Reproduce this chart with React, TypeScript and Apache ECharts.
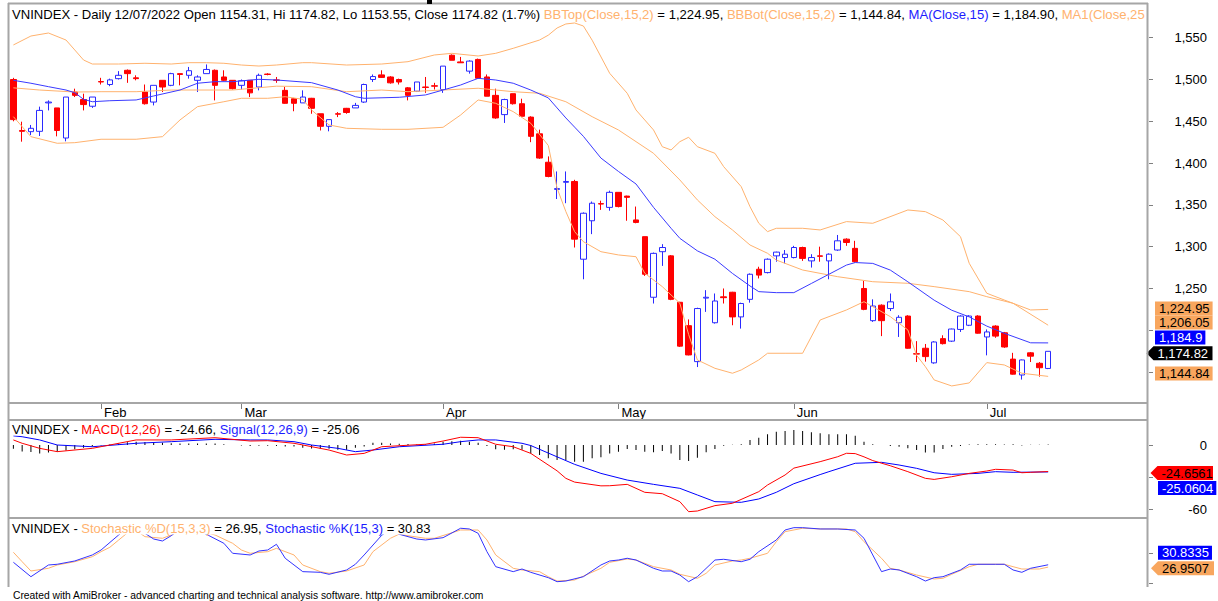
import React, { useEffect, useRef } from "react";
import * as echarts from "echarts";

const FONT = '"Liberation Sans", Arial, Helvetica, sans-serif';

// ---------- calendar (trading days shown) ----------
const MONTHS = ["Jan", "Feb", "Mar", "Apr", "May", "Jun", "Jul"];
const tradingDays: number[][] = [
  [17, 18, 19, 20, 21, 24, 25, 26, 27, 28],
  [7, 8, 9, 10, 11, 14, 15, 16, 17, 18, 21, 22, 23, 24, 25, 28],
  [1, 2, 3, 4, 7, 8, 9, 10, 11, 14, 15, 16, 17, 18, 21, 22, 23, 24, 25, 28, 29, 30, 31],
  [1, 4, 5, 6, 7, 8, 12, 13, 14, 15, 18, 19, 20, 21, 22, 25, 26, 27, 28, 29],
  [4, 5, 6, 9, 10, 11, 12, 13, 16, 17, 18, 19, 20, 23, 24, 25, 26, 27, 30, 31],
  [1, 2, 3, 6, 7, 8, 9, 10, 13, 14, 15, 16, 17, 20, 21, 22, 23, 24, 27, 28, 29, 30],
  [1, 4, 5, 6, 7, 8, 11, 12],
];
const PAD_BARS = 11;

// ---------- OHLC ----------
const opens = [
  1500, 1439, 1437.6, 1438, 1472, 1466, 1430, 1485, 1476, 1468,
  1497.5, 1494, 1501, 1511, 1502, 1485, 1473, 1499, 1493, 1507,
  1505, 1499, 1507, 1511, 1503, 1499, 1493, 1499, 1491, 1506.5,
  1499.5, 1487, 1477, 1472, 1477.5, 1459, 1444, 1459, 1465.5, 1466,
  1473, 1500, 1505.5, 1503, 1500, 1490, 1486, 1491, 1492.5, 1488,
  1529, 1521, 1510, 1524, 1503, 1481, 1458, 1483, 1471, 1455,
  1435, 1401, 1368.5, 1377, 1378, 1285, 1331, 1351.5, 1347, 1365,
  1360.5, 1332, 1312, 1239.5, 1294, 1289, 1233.5, 1205.5, 1162.5, 1238.5,
  1209, 1240, 1245.5, 1216, 1237, 1273, 1269, 1289, 1287, 1287,
  1299, 1283, 1289, 1283, 1296, 1309, 1298, 1250, 1211.5, 1230,
  1226, 1209, 1217, 1172, 1178.5, 1161, 1190, 1187, 1201, 1206,
  1217, 1192, 1205, 1197, 1165.5, 1146.5, 1173, 1160.5, 1154.31,
];
const highs = [
  1502, 1449.5, 1445.6, 1467.5, 1475, 1466, 1479, 1489, 1483, 1479,
  1502, 1501, 1510, 1512, 1505, 1494, 1493, 1499, 1508, 1507,
  1515, 1505, 1518, 1512, 1511, 1499, 1500, 1499, 1507, 1507.5,
  1503, 1491, 1478, 1487, 1478, 1459, 1452, 1461, 1466, 1472,
  1495, 1506, 1511, 1504, 1501, 1491, 1497, 1503, 1496, 1516,
  1530, 1527, 1523, 1525, 1506, 1489, 1477, 1483, 1477, 1456,
  1440, 1408, 1390, 1390, 1380, 1341, 1354, 1355, 1367, 1365,
  1361, 1348, 1312, 1293, 1303, 1290, 1234, 1213, 1227, 1248,
  1244, 1250, 1246, 1233, 1268, 1276, 1286, 1294, 1296, 1301,
  1300, 1291, 1300, 1292, 1314, 1310, 1307, 1259, 1237, 1231,
  1244, 1218, 1218, 1187, 1183.6, 1187, 1194, 1202, 1218, 1218,
  1218, 1201, 1206, 1198, 1173, 1165, 1174, 1162, 1174.82,
];
const lows = [
  1450, 1425.6, 1433.6, 1432.4, 1463, 1432, 1426, 1479, 1463, 1466,
  1494, 1492, 1500, 1496, 1499, 1470, 1469, 1485, 1492, 1493,
  1501, 1485, 1507, 1475, 1498, 1488, 1488, 1479, 1487, 1505,
  1496, 1471, 1462, 1472, 1459, 1439, 1438, 1455, 1459, 1466,
  1472, 1497, 1502, 1495, 1494, 1475, 1485, 1484, 1488, 1484,
  1523, 1520, 1507, 1501, 1480, 1453, 1448, 1470, 1455, 1425,
  1405, 1383, 1357, 1352, 1299, 1261, 1315, 1344, 1343, 1347,
  1331, 1328, 1265, 1232, 1277, 1236, 1180, 1170, 1156, 1222,
  1208, 1232, 1206, 1202, 1233, 1262, 1268, 1282, 1280, 1286,
  1283, 1275, 1282, 1261, 1295, 1301, 1281, 1224, 1210, 1193,
  1223, 1192, 1178, 1162, 1162.5, 1160, 1183, 1186, 1198, 1205,
  1196, 1170, 1191, 1179, 1147, 1141, 1162, 1144.5, 1153.55,
];
const closes = [
  1452, 1438, 1441.6, 1463, 1473, 1439, 1479, 1481, 1470, 1479,
  1497, 1499.5, 1505, 1507, 1501, 1471, 1493, 1491, 1507, 1506,
  1510.5, 1503, 1512, 1493, 1499, 1489, 1498.5, 1484, 1505, 1506,
  1499, 1471.5, 1471.5, 1479, 1465.5, 1444, 1452, 1458.5, 1460.5, 1469,
  1494, 1503.5, 1502.5, 1496, 1497, 1481, 1497, 1490.5, 1492, 1516,
  1523, 1520, 1522, 1501.5, 1480, 1454, 1476, 1471, 1456, 1432,
  1406, 1384, 1369.5, 1378, 1309, 1340, 1352, 1351, 1365, 1348,
  1359, 1329, 1267, 1292, 1299, 1237, 1181, 1170.5, 1226, 1239.5,
  1235, 1239, 1216, 1232, 1267, 1266, 1285, 1293.5, 1291, 1299,
  1286, 1287, 1288.5, 1291, 1307, 1305, 1282, 1225, 1229, 1211.5,
  1234, 1215.5, 1178.5, 1171.5, 1168.5, 1186, 1184, 1201.5, 1217, 1217,
  1196.5, 1198, 1193, 1180, 1147.5, 1164.5, 1169, 1155.2, 1174.82,
];

// ---------- price-panel indicator lines: [bar, value] ----------
const maClose15: [number, number][] = [
  [0, 1499], [2, 1495.5], [4, 1491.4], [6, 1487.4], [7, 1484.2], [8, 1476.3], [9, 1473.4], [11, 1474.6],
  [14, 1475.5], [16, 1480.3], [19, 1487.4], [21, 1495.5], [23, 1497.4], [25, 1497.4], [28, 1500.2],
  [30, 1499.4], [34, 1496.2], [37, 1487.4], [39, 1479.4], [40, 1477.5], [44, 1478.7], [47, 1481.5],
  [49, 1487.4], [51, 1493.4], [53, 1501.4], [55, 1499.4], [57, 1495.5], [59, 1487.4], [61, 1478],
  [62, 1466], [63, 1454], [64, 1443], [65, 1432], [67, 1406], [69, 1390], [71, 1375], [73, 1347],
  [75, 1322], [76, 1310], [78, 1295], [80, 1285], [82, 1268], [84, 1253], [85, 1246.2], [87, 1245],
  [89, 1245], [91, 1256], [93, 1267], [95, 1278], [96, 1281], [98, 1280], [100, 1272], [102, 1258],
  [105, 1236], [107, 1224], [109, 1216], [111, 1205], [113, 1196.4], [116, 1185], [118, 1184.9],
];
const ma1Close: [number, number][] = [
  [0, 1490], [3, 1487.4], [7, 1485], [10, 1485.4], [14, 1485.4], [18, 1487.4], [25, 1487.4], [30, 1492],
  [34, 1491.4], [38, 1485.4], [42, 1487.4], [45, 1485.4], [49, 1487.4], [53, 1489.5], [57, 1485.4],
  [60, 1483.5], [63, 1473.4], [66, 1455.5], [69, 1439.6], [73, 1411.7], [76, 1379.8], [78, 1355.9],
  [80, 1335.9], [82, 1320], [84, 1302], [86, 1292.1], [87, 1284], [90, 1272.1], [94, 1264.1],
  [98, 1258.1], [102, 1256.2], [105, 1252.2], [109, 1246.2], [111, 1240.2], [114, 1232.3], [118, 1206.05],
];
const bbTop: [number, number][] = [
  [0, 1541.3], [2, 1552], [4, 1555.6], [6, 1547.2], [7, 1535.3], [8, 1523.3], [9, 1518.5], [12, 1518.5],
  [15, 1519.4], [18, 1518.5], [20, 1520.1], [22, 1520.1], [24, 1519.4], [26, 1517.3], [28, 1516.1],
  [30, 1517.3], [33, 1520.1], [34, 1520.1], [38, 1517.3], [42, 1518.5], [45, 1521.3], [48, 1529.3],
  [50, 1531.3], [53, 1528.1], [55, 1531.3], [57, 1537.3], [60, 1547.2], [61, 1553], [62, 1561.6],
  [63, 1566.4], [64, 1567.6], [65, 1564], [66, 1547], [68, 1507.4], [70, 1483.5], [71, 1463.5],
  [73, 1439.6], [74, 1419.6], [75, 1415.7], [76, 1425.6], [77, 1430.9], [78, 1419.6], [80, 1411.7],
  [81, 1395.7], [83, 1371.8], [84, 1347.8], [85, 1328], [86, 1318], [87, 1322], [90, 1322], [92, 1320],
  [95, 1330], [98, 1328], [102, 1343.9], [104, 1341.9], [106, 1331.9], [108, 1312], [109, 1280.1],
  [111, 1244.3], [113, 1236.2], [116, 1224.3], [118, 1224.95],
];
const bbBot: [number, number][] = [
  [0, 1455.5], [2, 1431.6], [5, 1423.7], [7, 1424.4], [10, 1428.5], [14, 1428.5], [17, 1431.6],
  [19, 1451.6], [21, 1467.5], [24, 1473.4], [26, 1477.5], [29, 1477.5], [31, 1479.4], [33, 1476.3],
  [34, 1463.5], [36, 1445.6], [38, 1441.6], [42, 1440.4], [45, 1440.4], [49, 1442.8], [51, 1457.5],
  [53, 1475.5], [55, 1471.5], [57, 1461.5], [59, 1447.6], [61, 1421], [62, 1370], [63, 1342],
  [64, 1318], [65, 1306], [67, 1294], [69, 1290.1], [71, 1288], [72, 1268.2], [74, 1252.2],
  [76, 1232.3], [77, 1195], [78, 1164.5], [80, 1154.5], [82, 1148.6], [83, 1152.5], [85, 1164.5],
  [86, 1172.5], [88, 1172.5], [90, 1172.5], [92, 1212.3], [95, 1224.3], [97, 1234.2], [98, 1228.2],
  [100, 1216.3], [102, 1200.4], [103, 1170], [104, 1156.5], [105, 1140.6], [107, 1133.4], [109, 1137],
  [111, 1161.3], [113, 1158.5], [115, 1148.6], [118, 1144.84],
];

// ---------- MACD panel ----------
const macdLine: [number, number][] = [
  [0, 4.7], [1, 1.6], [3, -3.1], [5, -6.2], [9, -3.1], [14, 4.7], [18, 4.7], [23, 6.8], [27, 3.7],
  [29, 4], [32, 1.6], [36, -4.7], [38, -9.3], [40, -7.8], [42, -1.6], [47, 0.7], [49, 3.7], [51, 7.2],
  [53, 6.8], [55, 0.7], [57, -1.6], [59, -7.8], [62, -24], [63, -31], [64, -34.5], [67, -38], [68, -37.9],
  [70, -36.6], [72, -44], [74, -45.3], [76, -52.7], [77, -62], [78, -61.4], [80, -56.4], [82, -54.2],
  [85, -43.4], [86, -37.2], [88, -27.9], [89, -21.5], [92, -15.5], [94, -10.9], [95, -7.7], [96, -8],
  [97, -11], [98, -14.5], [100, -19.3], [102, -24.8], [104, -31], [105, -32], [107, -29.5], [109, -26.4],
  [111, -24.2], [112, -22.6], [114, -23.3], [115, -25.8], [116, -25.4], [118, -24.6561],
];
const signalLine: [number, number][] = [
  [0, 8.5], [1, 7.7], [3, 4.7], [5, 0], [9, -1.6], [14, 1.6], [18, 3.1], [23, 5.3], [27, 4.7], [29, 4.7],
  [32, 3.1], [34, 0], [37, -3.1], [39, -6.2], [41, -4.7], [44, -1.6], [49, 0.7], [51, 3.1], [53, 4.7],
  [55, 4.7], [58, 1.6], [59, -0.5], [62, -11], [64, -18], [67, -26.4], [70, -32.6], [73, -36.6],
  [76, -40.3], [78, -46.5], [80, -52.7], [83, -53.3], [85, -50.2], [87, -44], [89, -36],
  [92, -27.5], [93, -24.8], [96, -17], [99, -16.1], [101, -18.6], [103, -21.7], [105, -25.8],
  [107, -27.3], [110, -26.4], [112, -24.8], [114, -25.4], [118, -25.0604],
];
const macdHist = [
  -3.5, -6, -6.5, -7.8, -7, -6.2, -5, -4, -2.5, -1.5,
  -0.5, 0.5, 1.5, 2.5, 3.1, 2.8, 2.5, 2, 1.6, 1.5,
  1.5, 1.5, 1.5, 1.5, 0.8, 0, -0.5, -1, -0.8, -0.7,
  -1, -1.3, -1.5, -2.5, -3.3, -3.5, -3.5, -4.5, -4.5, -2.5,
  -1.5, 2, 2, 1.5, 1.2, 1, 0.5, 0.5, 1.5, 3,
  3.5, 4, 3, 2, -1, -4, -4.5, -4, -4.5, -7.8,
  -9.3, -12.4, -14, -14, -15.5, -15.5, -12.4, -11.5, -7.8, -6.2,
  -3.7, -4.7, -6.2, -6.8, -5.6, -7.8, -14, -14.9, -11.8, -6.8,
  -3.7, -0.6, 0.2, 0.6, 4.7, 6.8, 9.9, 12.4, 13, 14,
  13, 11.8, 10.9, 9.9, 9.9, 9.9, 8.7, 3.1, 0.6, 0.1,
  -1, -1.6, -3, -4.6, -7, -7, -3.7, -1.6, -1, 0.5,
  0.8, 0.8, 0.6, 0.5, 0.6, -0.4, 0.2, 0.3, 0.4,
];

// ---------- Stochastic panel ----------
const stochK: [number, number][] = [
  [0, 35], [2, 11], [4, 30.5], [5, 31.7], [7, 37.2], [9, 47.2], [10, 55.5], [12, 80.5], [13, 92], [14, 90],
  [15, 83.3], [16, 73.8], [17, 70.5], [18, 79.3], [19, 90], [20, 92], [21, 88], [22, 81.7], [24, 66.7],
  [25, 50], [27, 47.2], [28, 53.8], [29, 55.5], [30, 65], [31, 41.7], [33, 19.4], [35, 18.3], [36, 15],
  [38, 22.2], [39, 31.7], [40, 47.2], [42, 80], [43, 90], [44, 81.7], [46, 73.8], [47, 72.2], [49, 76],
  [51, 91.7], [52, 90.5], [53, 83.3], [54, 52.7], [55, 27.7], [57, 19.4], [58, 23.8], [59, 18.3],
  [61, 9.4], [62, 2.7], [63, 3.8], [65, 11], [67, 30.5], [68, 37.2], [69, 38.8], [70, 41.7], [71, 38.8],
  [73, 25], [74, 20.5], [75, 20.5], [76, 13.8], [77, 2.7], [78, 11], [80, 38.8], [81, 40], [83, 36],
  [84, 40], [85, 52.7], [87, 72.2], [88, 88.8], [89, 92.7], [90, 92.7], [92, 90.5], [94, 90.5],
  [96, 88.8], [97, 75], [98, 47.2], [99, 19.4], [100, 23.8], [101, 22.2], [103, 11], [104, 3.8],
  [105, 9.4], [106, 11], [108, 22.2], [109, 31.7], [110, 31.7], [112, 31.7], [113, 31.7], [114, 22.2],
  [115, 18.3], [116, 25], [118, 30.8335],
];
const stochD: [number, number][] = [
  [0, 51.7], [1, 36], [2, 20.5], [4, 25], [5, 30.5], [7, 36], [9, 44.3], [10, 52.7], [11, 60], [12, 72],
  [13, 84], [14, 88], [15, 77.7], [17, 75], [18, 80.5], [19, 88], [20, 90], [21, 88], [23, 80.5],
  [25, 66.7], [26, 55.5], [27, 50], [29, 52.7], [30, 58.3], [32, 47.2], [33, 30.5], [35, 19.4],
  [36, 16.7], [38, 20.5], [40, 30.5], [41, 52.7], [43, 75], [44, 82], [45, 79.3], [47, 75], [48, 75],
  [51, 88.8], [53, 88.8], [54, 72.2], [55, 47.2], [57, 25], [58, 22.2], [60, 19.4], [61, 11], [62, 3.8],
  [64, 5.5], [67, 25], [68, 35], [70, 40.5], [71, 38.8], [73, 27.7], [75, 22.2], [76, 15], [78, 8.3],
  [79, 16.7], [80, 30.5], [82, 37.2], [83, 38.8], [84, 41.7], [86, 50], [87, 69.3], [88, 86],
  [90, 91.7], [92, 90.5], [95, 90.5], [96, 86], [97, 69.3], [99, 41.7], [100, 25], [101, 22.2],
  [103, 13.8], [105, 7.2], [106, 8.3], [107, 15], [109, 27.7], [110, 31.7], [113, 31.7], [114, 27.7],
  [115, 23.8], [117, 23.8], [118, 26.9507],
];

// ---------- axis ticks (labels that the value boxes fully hide in the reference are left out) ----------
const priceTicks = [1150, 1200, 1250, 1300, 1350, 1400, 1450, 1500, 1550];
const priceLabels = [1150, 1250, 1300, 1350, 1400, 1450, 1500, 1550];
const macdTicks = [0, -30, -60];
const macdLabels = [0, -60];
const stochTicks = [0, 50];
const stochLabels: number[] = [];

// ---------- colours ----------
const RED = "#ff0000";
const BLUE = "#2a2aff";
const ORANGE = "#ffb26e";
const BOX_ORANGE = "#f8a65e";
const FRAME = "#a6a6a6";

function buildOption() {
  const dates: string[] = [];
  const monthIdx: number[] = [];
  tradingDays.forEach((days, m) =>
    days.forEach((d) => {
      dates.push(`${String(d).padStart(2, "0")}/${String(m + 1).padStart(2, "0")}/2022`);
      monthIdx.push(m);
    })
  );
  const categories = [...dates, ...Array.from({ length: PAD_BARS }, (_, k) => `pad${k}`)];
  const monthStart = new Set<number>();
  for (let i = 1; i < monthIdx.length; i++) if (monthIdx[i] !== monthIdx[i - 1]) monthStart.add(i);

  const candles = opens.map((o, i) => [o, closes[i], lows[i], highs[i]]);
  const n = closes.length;
  const last = (a: [number, number][]) => a[a.length - 1][1];
  const c2 = (v: number) => v.toLocaleString("en-US", { minimumFractionDigits: 2, maximumFractionDigits: 2 });
  const cShort = (v: number) => v.toLocaleString("en-US", { maximumFractionDigits: 2 });
  const pct = ((closes[n - 1] / closes[n - 2] - 1) * 100).toFixed(1);

  const makeRich = (size: number) => {
    const base = { fontSize: size, fontFamily: FONT };
    return {
      k: { ...base, fill: "#000" },
      o: { ...base, fill: ORANGE },
      b: { ...base, fill: "#1c1cff" },
      r: { ...base, fill: RED },
    };
  };

  // the reference's title strip is cut by the panel edge inside "MA1(Close,25"
  const header =
    `{k|VNINDEX - Daily ${dates[n - 1]} Open ${opens[n - 1].toFixed(2)}, Hi ${highs[n - 1].toFixed(2)}, ` +
    `Lo ${lows[n - 1].toFixed(2)}, Close ${closes[n - 1].toFixed(2)} (${pct}%) }` +
    `{o|BBTop(Close,15,2)}{k| = ${c2(last(bbTop))}, }{o|BBBot(Close,15,2)}{k| = ${c2(last(bbBot))}, }` +
    `{b|MA(Close,15)}{k| = ${c2(last(maClose15))}, }{o|MA1(Close,25}`;
  const macdTitle =
    `{k|VNINDEX - }{r|MACD(12,26)}{k| = ${last(macdLine).toFixed(2)}, }` +
    `{b|Signal(12,26,9)}{k| = ${last(signalLine).toFixed(2)}}`;
  const stochTitle =
    `{k|VNINDEX - }{o|Stochastic %D(15,3,3)}{k| = ${last(stochD).toFixed(2)}, }` +
    `{b|Stochastic %K(15,3)}{k| = ${last(stochK).toFixed(2)}}`;

  const title = (text: string, y: number, size: number) => ({
    type: "text",
    z: 100,
    x: 11,
    y,
    style: {
      text,
      rich: makeRich(size),
      fontSize: size,
      fontFamily: FONT,
      verticalAlign: "middle",
      backgroundColor: "#fff",
      padding: [1, 1, 0, 1],
    },
  });

  const box = (text: string, cy: number, left: number, bg: string, fg: string) => ({
    type: "text",
    z: 110,
    x: left,
    y: cy,
    style: {
      text,
      fill: fg,
      fontSize: 13,
      fontFamily: FONT,
      verticalAlign: "middle",
      backgroundColor: bg,
      padding: [1, 3, 0, 4],
    },
  });
  const arrowBox = (text: string, cy: number, tip: number, right: number, bg: string, fg: string) => [
    {
      type: "polygon",
      z: 110,
      shape: {
        points: [
          [tip, cy],
          [tip + 7, cy - 7],
          [right, cy - 7],
          [right, cy + 7],
          [tip + 7, cy + 7],
        ],
      },
      style: { fill: bg },
    },
    {
      type: "text",
      z: 111,
      x: tip + 11,
      y: cy,
      style: { text, fill: fg, fontSize: 13, fontFamily: FONT, verticalAlign: "middle" },
    },
  ];

  const hLine = (y: number, x1: number, x2: number) => ({
    type: "line",
    z: 120,
    shape: { x1, y1: y, x2, y2: y },
    style: { stroke: FRAME, lineWidth: 2 },
  });
  const vLine = (x: number, y1: number, y2: number) => ({
    type: "line",
    z: 120,
    shape: { x1: x, y1, x2: x, y2 },
    style: { stroke: FRAME, lineWidth: 2 },
  });

  const graphic: any[] = [
    title(header, 14, 13.1),
    title(macdTitle, 428.5, 13),
    title(stochTitle, 527.5, 13),
    hLine(3.5, 8, 1148),
    hLine(403, 8, 1148),
    hLine(420, 8, 1148),
    hLine(518, 8, 1148),
    vLine(8.5, 3, 587),
    vLine(1147.5, 3, 587),
    { type: "rect", z: 121, shape: { x: 427, y: 0, width: 5, height: 4 }, style: { fill: "#000" } },
    box(cShort(last(bbTop)), 308.5, 1155, BOX_ORANGE, "#000"),
    box(cShort(last(ma1Close)), 322.5, 1155, BOX_ORANGE, "#000"),
    box(cShort(last(maClose15)), 337.5, 1155, "#0000ff", "#fff"),
    ...arrowBox(cShort(closes[n - 1]), 353.3, 1146.5, 1212.5, "#000", "#fff"),
    box(cShort(last(bbBot)), 373.5, 1155, BOX_ORANGE, "#000"),
    ...arrowBox(last(macdLine).toFixed(4), 473, 1150.5, 1213, RED, "#000"),
    box(last(signalLine).toFixed(4), 488, 1158, "#0000ff", "#fff"),
    box(last(stochK).toFixed(4), 552.8, 1158, "#0000ff", "#fff"),
    ...arrowBox(last(stochD).toFixed(4), 568.3, 1151, 1214, BOX_ORANGE, "#000"),
    {
      type: "text",
      z: 100,
      x: 13,
      y: 595,
      style: {
        text: "Created with AmiBroker - advanced charting and technical analysis software. http://www.amibroker.com",
        fill: "#000",
        fontSize: 10.3,
        fontFamily: FONT,
        verticalAlign: "middle",
      },
    },
  ];

  const axisLabelBase = { fontSize: 13, fontFamily: FONT, color: "#000" };
  const yAxisCommon = (gridIndex: number, min: number, max: number, ticks: number[], labels: number[], fmt: (v: number) => string) => ({
    type: "value",
    gridIndex,
    position: "right",
    min,
    max,
    axisLine: { show: false },
    splitLine: { show: false },
    axisTick: { show: true, length: 4, customValues: ticks, lineStyle: { color: "#808080" } },
    axisLabel: {
      ...axisLabelBase,
      show: labels.length > 0,
      customValues: labels.length ? labels : ticks,
      formatter: fmt,
      align: "right",
      margin: 58,
    },
  });

  const lineS = (data: [number, number][], color: string, xi: number, yi: number, z = 3) => ({
    type: "line",
    xAxisIndex: xi,
    yAxisIndex: yi,
    data,
    showSymbol: false,
    symbol: "none",
    lineStyle: { color, width: 1 },
    itemStyle: { color },
    z,
    silent: true,
  });

  return {
    animation: false,
    backgroundColor: "#fff",
    grid: [
      { left: 9, right: 69, top: 4, height: 399 },
      { left: 9, right: 69, top: 420, height: 98 },
      { left: 9, right: 69, top: 518, height: 68 },
    ],
    xAxis: [
      {
        type: "category",
        gridIndex: 0,
        data: categories,
        boundaryGap: true,
        axisLine: { show: false },
        splitLine: { show: false },
        axisTick: {
          show: true,
          alignWithLabel: true,
          interval: (i: number) => monthStart.has(i),
          length: 6,
          lineStyle: { color: "#808080" },
        },
        axisLabel: {
          ...axisLabelBase,
          interval: (i: number) => monthStart.has(i),
          formatter: (v: string) => MONTHS[parseInt(v.slice(3, 5), 10) - 1] || "",
          align: "left",
          verticalAlign: "top",
          margin: 3,
          padding: [0, 0, 0, 3],
        },
      },
      { type: "category", gridIndex: 1, data: categories, boundaryGap: true, show: false },
      { type: "category", gridIndex: 2, data: categories, boundaryGap: true, show: false },
    ],
    yAxis: [
      yAxisCommon(0, 1113, 1590.3, priceTicks, priceLabels, (v) => v.toLocaleString("en-US")),
      yAxisCommon(1, -67.9, 23.26, macdTicks, macdLabels, (v) => String(v)),
      yAxisCommon(2, -4.5, 108.8, stochTicks, stochLabels, (v) => String(v)),
    ],
    series: [
      {
        type: "candlestick",
        xAxisIndex: 0,
        yAxisIndex: 0,
        data: candles,
        barWidth: 6,
        z: 2,
        itemStyle: {
          color: "#ffffff",
          color0: RED,
          borderColor: BLUE,
          borderColor0: RED,
          borderWidth: 1,
        },
        silent: true,
      },
      lineS(bbTop, ORANGE, 0, 0),
      lineS(ma1Close, ORANGE, 0, 0),
      lineS(bbBot, ORANGE, 0, 0),
      lineS(maClose15, "#3a3aff", 0, 0, 4),
      {
        type: "bar",
        xAxisIndex: 1,
        yAxisIndex: 1,
        data: macdHist,
        barWidth: 1,
        itemStyle: { color: "#000" },
        silent: true,
      },
      lineS(signalLine, "#0000ff", 1, 1),
      lineS(macdLine, RED, 1, 1, 4),
      lineS(stochD, ORANGE, 2, 2),
      lineS(stochK, "#3333ff", 2, 2, 4),
    ],
    graphic,
  };
}

export default function App() {
  const ref = useRef<HTMLDivElement>(null);
  useEffect(() => {
    document.body.style.margin = "0";
    const chart = echarts.init(ref.current!, undefined, { renderer: "svg" });
    chart.setOption(buildOption() as any);
    return () => chart.dispose();
  }, []);
  return <div ref={ref} style={{ width: 1218, height: 601, background: "#fff" }} />;
}
